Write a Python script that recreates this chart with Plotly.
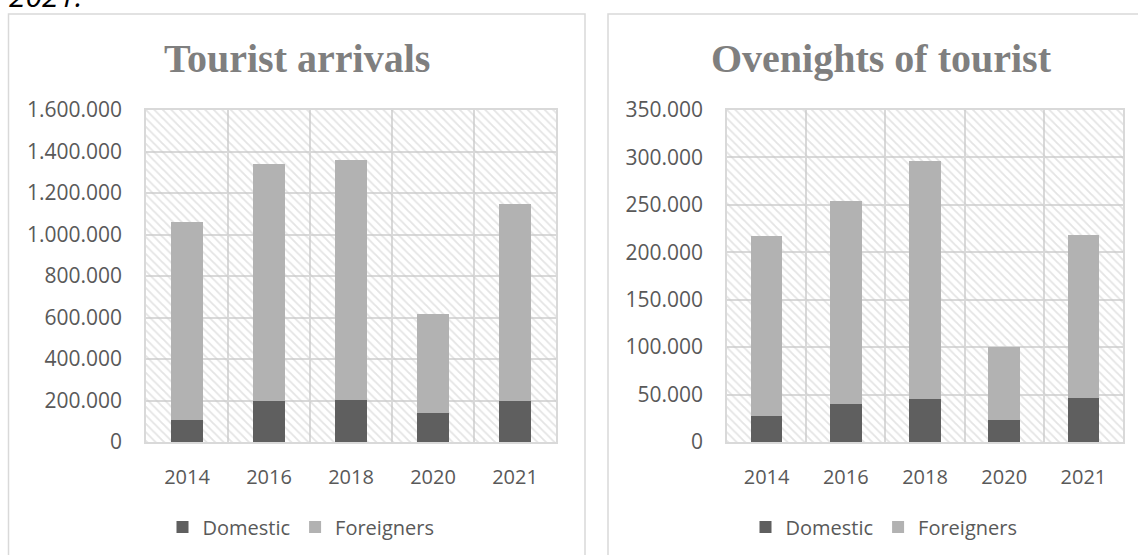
import plotly.graph_objects as go

# Years shown on both charts
years = ["2014", "2016", "2018", "2020", "2021"]

# Tourist arrivals
arrivals_domestic = [106000, 198000, 202000, 141000, 198000]
arrivals_foreigners = [956000, 1142000, 1158000, 474000, 947000]

# Overnights of tourists
overnights_domestic = [27500, 40000, 45000, 23500, 46000]
overnights_foreigners = [189500, 214500, 251500, 76500, 172000]

# Axis maxima and tick steps
arrivals_max, arrivals_step = 1600000, 200000
overnights_max, overnights_step = 350000, 50000

W, H = 1138, 555
DOMESTIC_COLOR = "#5f5f5f"
FOREIGN_COLOR = "#b2b2b2"
GRID = "#d9d9d9"
TEXT = "#595959"
TITLE = "#7f7f7f"
SANS = "Open Sans"
SERIF = "Liberation Serif"


def px_x(v):
    return v / W


def px_y(v):
    return 1 - v / H


fig = go.Figure()


def add_panel(xa, ya, dom, frn, ymax, legend):
    # hatched plot background
    fig.add_trace(go.Bar(
        x=years, y=[ymax] * len(years), width=1,
        marker=dict(color="rgba(0,0,0,0)", line=dict(width=0),
                    pattern=dict(shape="\\", fgcolor="#c9c9c9", size=6,
                                 solidity=0.3, fillmode="overlay")),
        hoverinfo="skip", showlegend=False, xaxis=xa, yaxis=ya,
    ))
    fig.add_trace(go.Bar(
        x=years, y=dom, name="Domestic", width=0.4,
        marker=dict(color=DOMESTIC_COLOR, line=dict(width=0)),
        xaxis=xa, yaxis=ya, legend=legend,
    ))
    fig.add_trace(go.Bar(
        x=years, y=frn, base=dom, name="Foreigners", width=0.4,
        marker=dict(color=FOREIGN_COLOR, line=dict(width=0)),
        xaxis=xa, yaxis=ya, legend=legend,
    ))


add_panel("x", "y", arrivals_domestic, arrivals_foreigners, arrivals_max, "legend")
add_panel("x2", "y2", overnights_domestic, overnights_foreigners, overnights_max, "legend2")

xaxis_common = dict(
    type="category", range=[-0.5, 4.5], tickson="boundaries",
    showgrid=True, gridcolor=GRID, gridwidth=1.5,
    showline=True, mirror=True, linecolor=GRID, linewidth=1.5,
    ticks="", ticklabelstandoff=16,
    tickfont=dict(family=SANS, size=20, color=TEXT),
    fixedrange=True, zeroline=False,
)
yaxis_common = dict(
    showgrid=True, gridcolor=GRID, gridwidth=1.5,
    showline=True, mirror=True, linecolor=GRID, linewidth=1.5,
    ticks="", ticklabelstandoff=18, tickformat=",d",
    tickfont=dict(family=SANS, size=21, color=TEXT),
    fixedrange=True, zeroline=False,
)

legend_common = dict(
    orientation="h", xanchor="center", yanchor="middle", y=px_y(527),
    font=dict(family=SANS, size=20, color=TEXT), itemwidth=30,
    bgcolor="rgba(0,0,0,0)",
)

y_dom = [px_y(442), px_y(110)]
fig.update_layout(
    width=W, height=H,
    margin=dict(l=0, r=0, t=0, b=0, autoexpand=False),
    paper_bgcolor="white", plot_bgcolor="white",
    barmode="overlay", bargap=0,
    separators=",.",
    xaxis=dict(domain=[px_x(146), px_x(556)], anchor="y", **xaxis_common),
    yaxis=dict(domain=y_dom, anchor="x", range=[0, arrivals_max], dtick=arrivals_step, **yaxis_common),
    xaxis2=dict(domain=[px_x(727), px_x(1123)], anchor="y2", **xaxis_common),
    yaxis2=dict(domain=y_dom, anchor="x2", range=[0, overnights_max], dtick=overnights_step, **yaxis_common),
    legend=dict(x=px_x(301), **legend_common),
    legend2=dict(x=px_x(884), **legend_common),
    showlegend=True,
)

# chart frames
for x0, x1 in [(8.5, 585), (608, 1190)]:
    fig.add_shape(type="rect", xref="paper", yref="paper",
                  x0=px_x(x0), x1=px_x(x1), y0=px_y(575), y1=px_y(14),
                  line=dict(color=GRID, width=1.5), fillcolor="rgba(0,0,0,0)", layer="below")

# chart titles
fig.add_annotation(text="<b>Tourist arrivals</b>", xref="paper", yref="paper",
                   x=px_x(297), y=px_y(58), xanchor="center", yanchor="middle",
                   showarrow=False, font=dict(family=SERIF, size=40, color=TITLE))
fig.add_annotation(text="<b>Ovenights of tourist</b>", xref="paper", yref="paper",
                   x=px_x(881), y=px_y(58), xanchor="center", yanchor="middle",
                   showarrow=False, font=dict(family=SERIF, size=40, color=TITLE))

# trailing text line above the charts
fig.add_annotation(text="<i>2021.</i>", xref="paper", yref="paper",
                   x=px_x(7), y=px_y(18), xanchor="left", yanchor="bottom",
                   showarrow=False, font=dict(family=SANS, size=30, color="#000000"))

fig.write_html("out.html")
